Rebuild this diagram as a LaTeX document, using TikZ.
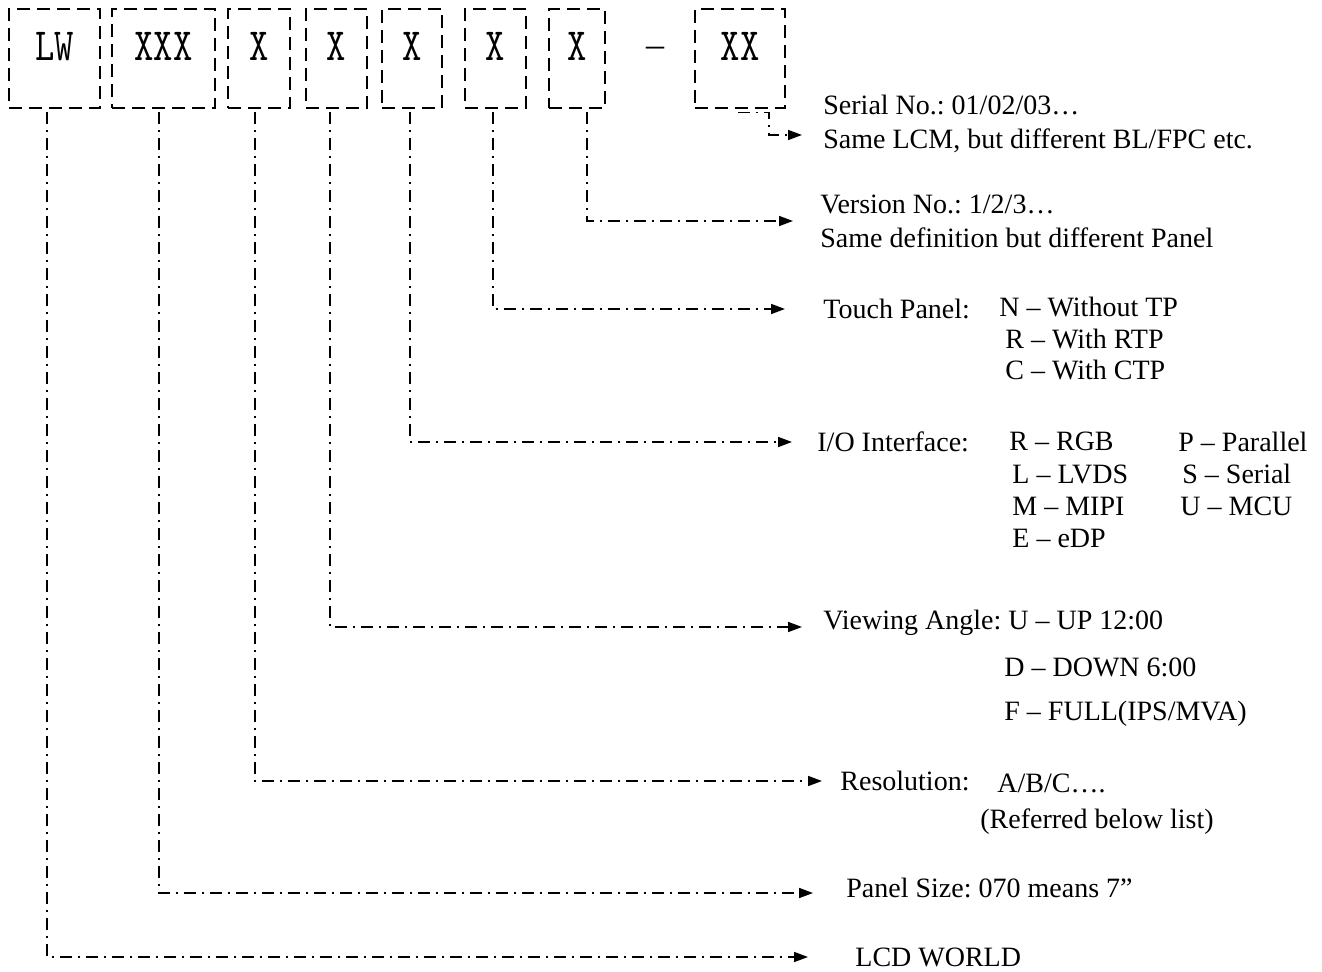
\documentclass[tikz,border=0pt]{standalone}
\usepackage{fontspec}
\setmainfont{Liberation Serif}
\newfontfamily\codefont[FakeStretch=0.8]{lmmono10-regular.otf}
\usepackage{tikz}
\usetikzlibrary{arrows.meta, positioning, calc}
\frenchspacing
\tikzset{
  codebox/.style={rectangle, draw=black, line width=1.4pt,
    dash pattern=on 6.5pt off 3.5pt, minimum height=49.5pt, inner sep=0pt,
    text height=14pt, text depth=12pt, font=\codefont\fontsize{23}{23}\selectfont},
  conn/.style={-{Triangle[length=7pt,width=5pt]}, line width=0.8pt,
    dash pattern=on 6pt off 3pt on 1pt off 3pt, shorten <=1.5pt},
  lbl/.style={anchor=west, inner sep=0pt, align=left,
    font=\fontsize{14}{17}\selectfont},
  opt/.style={anchor=base west, inner sep=0pt, align=left}
}

\begin{document}
\begin{tikzpicture}[x=0.5pt, y=-0.5pt]
  \useasboundingbox (0,0) rectangle (1322,972);
  % code boxes
  \node[codebox, minimum width=45.5pt] (lw) at (54.5,58.5) {LW};
  \node[codebox, minimum width=51.5pt] (size) at (163.5,58.5) {XXX};
  \node[codebox, minimum width=31pt] (res) at (259,58.5) {X};
  \node[codebox, minimum width=30.5pt] (view) at (336.5,58.5) {X};
  \node[codebox, minimum width=30pt] (io) at (412,58.5) {X};
  \node[codebox, minimum width=30.5pt] (touch) at (495.5,58.5) {X};
  \node[codebox, minimum width=28pt] (ver) at (577,58.5) {X};
  \node[inner sep=0pt, font=\fontsize{18}{18}\selectfont] (dash) at (655,52) {–};
  \node[codebox, minimum width=45pt] (serial) at (740,58.5) {XX};

  % labels
  \node[lbl] (sn) at (823,124) {Serial No.: 01/02/03…\\Same LCM, but different BL/FPC etc.};
  \node[lbl] (vn) at (820,221) {Version No.: 1/2/3…\\Same definition but different Panel};
  \node[lbl] (tp) at (823,309) {Touch Panel:};
  \node[opt, font=\fontsize{14}{15.75}\selectfont] (tpopt) at (999,380)
    {N – Without TP\\\hspace{3pt}R – With RTP\\\hspace{3pt}C – With CTP};
  \node[lbl] (if) at (817,442) {I/O Interface:};
  \node[opt, font=\fontsize{14}{16.2}\selectfont] (ifopt1) at (1009,548)
    {R – RGB\\\hspace{1.5pt}L – LVDS\\\hspace{1.5pt}M – MIPI\\\hspace{1.5pt}E – eDP};
  \node[opt, font=\fontsize{14}{16.2}\selectfont] (ifopt2) at (1178,516)
    {P – Parallel\\\hspace{2pt}S – Serial\\\hspace{1pt}U – MCU};
  \node[lbl] (va) at (823,623) {Viewing Angle: U – UP 12:00};
  \node[opt, font=\fontsize{14}{22}\selectfont] (vaopt) at (1004,720)
    {D – DOWN 6:00\\F – FULL(IPS/MVA)};
  \node[lbl] (rs) at (840,781) {Resolution:};
  \node[opt, font=\fontsize{14}{18}\selectfont] (rsopt) at (980,828)
    {\hspace{8.5pt}A/B/C….\\(Referred below list)};
  \node[lbl] (ps) at (846,888) {Panel Size: 070 means 7”};
  \node[lbl] (lcd) at (855,957) {LCD WORLD};

  % connectors
  \draw[conn, shorten >=10.5pt] (serial.south) ++(-5,3) -- ++(34,0) |- ([yshift=-5.5pt]sn.west);
  \draw[conn, shorten >=13.5pt] ([xshift=5pt]ver.south) |- (vn.west);
  \draw[conn, shorten >=19pt] ([xshift=-1.25pt]touch.south) |- (tp.west);
  \draw[conn, shorten >=12.5pt] ([xshift=-1pt]io.south) |- (if.west);
  \draw[conn, shorten >=10.5pt] ([xshift=-3.25pt]view.south) |- ([yshift=-2pt]va.west);
  \draw[conn, shorten >=9pt] ([xshift=-2pt]res.south) |- (rs.west);
  \draw[conn, shorten >=16.5pt] ([xshift=-2.25pt]size.south) |- ([yshift=-2.5pt]ps.west);
  \draw[conn, shorten >=23.5pt] ([xshift=-3.75pt]lw.south) |- (lcd.west);
\end{tikzpicture}
\end{document}
